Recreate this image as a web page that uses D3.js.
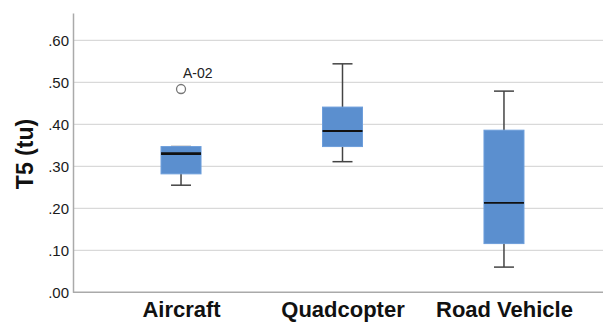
<!DOCTYPE html>
<html>
<head>
<meta charset="utf-8">
<script src="https://cdn.jsdelivr.net/npm/d3@7"></script>
<style>
  body { margin: 0; background: #fff; }
  svg { display: block; font-family: Arial, "Liberation Sans", sans-serif; }
</style>
</head>
<body>
<div id="container"></div>
<script>
// box plot data
var categories = ["Aircraft", "Quadcopter", "Road Vehicle"];
var whiskerLow = [0.255, 0.311, 0.060];
var q1 = [0.282, 0.347, 0.116];
var medians = [0.330, 0.384, 0.213];
var q3 = [0.347, 0.441, 0.386];
var whiskerHigh = [0.347, 0.544, 0.479];
var outlierValues = [0.484];
var outlierCats = ["Aircraft"];
var outlierLabels = ["A-02"];
var yTicks = [0, 0.1, 0.2, 0.3, 0.4, 0.5, 0.6];

var width = 603, height = 322;
var margin = { top: 13, right: 0, bottom: 30, left: 73 };

var svg = d3.select("#container").append("svg")
    .attr("width", width)
    .attr("height", height);

var x = d3.scalePoint()
    .domain(categories)
    .range([margin.left, 612])
    .padding(0.669);

var y = d3.scaleLinear()
    .domain([0, 0.665])
    .range([292.3, margin.top]);

var boxW = 40, capW = 20;
var fmt = function (d) { return d3.format(".2f")(d).replace(/^0/, ""); };

// gridlines
svg.append("g")
    .selectAll("line")
    .data(yTicks.slice(1))
    .enter().append("line")
    .attr("x1", margin.left)
    .attr("x2", width)
    .attr("y1", d => y(d))
    .attr("y2", d => y(d))
    .attr("stroke", "#d9d9d9")
    .attr("stroke-width", 1.3);

// y axis
var yAxis = svg.append("g")
    .attr("transform", "translate(" + margin.left + ",0)")
    .call(d3.axisLeft(y).tickValues(yTicks).tickFormat(fmt).tickSize(0).tickPadding(4));
yAxis.select(".domain").attr("stroke", "#aaa").attr("stroke-width", 1.5);
yAxis.selectAll("text").attr("font-size", 15).attr("fill", "#1a1a1a")
    .attr("font-family", "Arial, 'Liberation Sans', sans-serif");

// x axis
var xAxis = svg.append("g")
    .attr("transform", "translate(0," + y(0) + ")")
    .call(d3.axisBottom(x).tickSize(0).tickPadding(8));
xAxis.select(".domain").attr("d", "M" + margin.left + ",0H" + width)
    .attr("stroke", "#aaa").attr("stroke-width", 1.5);
xAxis.selectAll("text")
    .attr("font-size", 22).attr("font-weight", "bold").attr("fill", "#111")
    .attr("font-family", "Arial, 'Liberation Sans', sans-serif")
    .attr("dy", "0.75em");

// y title
svg.append("text")
    .attr("transform", "translate(33," + 154 + ") rotate(-90)")
    .attr("text-anchor", "middle")
    .attr("font-size", 23)
    .attr("font-weight", "bold")
    .attr("fill", "#111")
    .text("T5 (tu)");

var boxes = svg.append("g").selectAll("g")
    .data(categories)
    .enter().append("g");

// whisker stems
boxes.append("line")
    .attr("x1", d => x(d)).attr("x2", d => x(d))
    .attr("y1", (d, i) => y(whiskerLow[i]))
    .attr("y2", (d, i) => y(whiskerHigh[i]))
    .attr("stroke", "#444").attr("stroke-width", 1.5);

// caps
[whiskerLow, whiskerHigh].forEach(function (arr) {
    boxes.append("line")
        .attr("x1", d => x(d) - capW / 2).attr("x2", d => x(d) + capW / 2)
        .attr("y1", (d, i) => y(arr[i]))
        .attr("y2", (d, i) => y(arr[i]))
        .attr("stroke", "#444").attr("stroke-width", 1.5);
});

// boxes
boxes.append("rect")
    .attr("x", d => x(d) - boxW / 2)
    .attr("width", boxW)
    .attr("y", (d, i) => y(q3[i]))
    .attr("height", (d, i) => y(q1[i]) - y(q3[i]))
    .attr("fill", "#5b8fcf")
    .attr("stroke", "#6d9edb")
    .attr("stroke-width", 1);

// medians
boxes.append("line")
    .attr("x1", d => x(d) - boxW / 2).attr("x2", d => x(d) + boxW / 2)
    .attr("y1", (d, i) => y(medians[i]))
    .attr("y2", (d, i) => y(medians[i]))
    .attr("stroke", "#111")
    .attr("stroke-width", (d, i) => i === 0 ? 2.8 : 1.8);

// outliers
var outl = svg.append("g").selectAll("g")
    .data(outlierValues)
    .enter().append("g");

outl.append("circle")
    .attr("cx", (d, i) => x(outlierCats[i]))
    .attr("cy", d => y(d))
    .attr("r", 4.5)
    .attr("fill", "#fff")
    .attr("stroke", "#777")
    .attr("stroke-width", 1.3);

outl.append("text")
    .attr("x", (d, i) => x(outlierCats[i]) + 2)
    .attr("y", d => y(d) - 11)
    .attr("font-size", 14)
    .attr("fill", "#222")
    .text((d, i) => outlierLabels[i]);
</script>
</body>
</html>
